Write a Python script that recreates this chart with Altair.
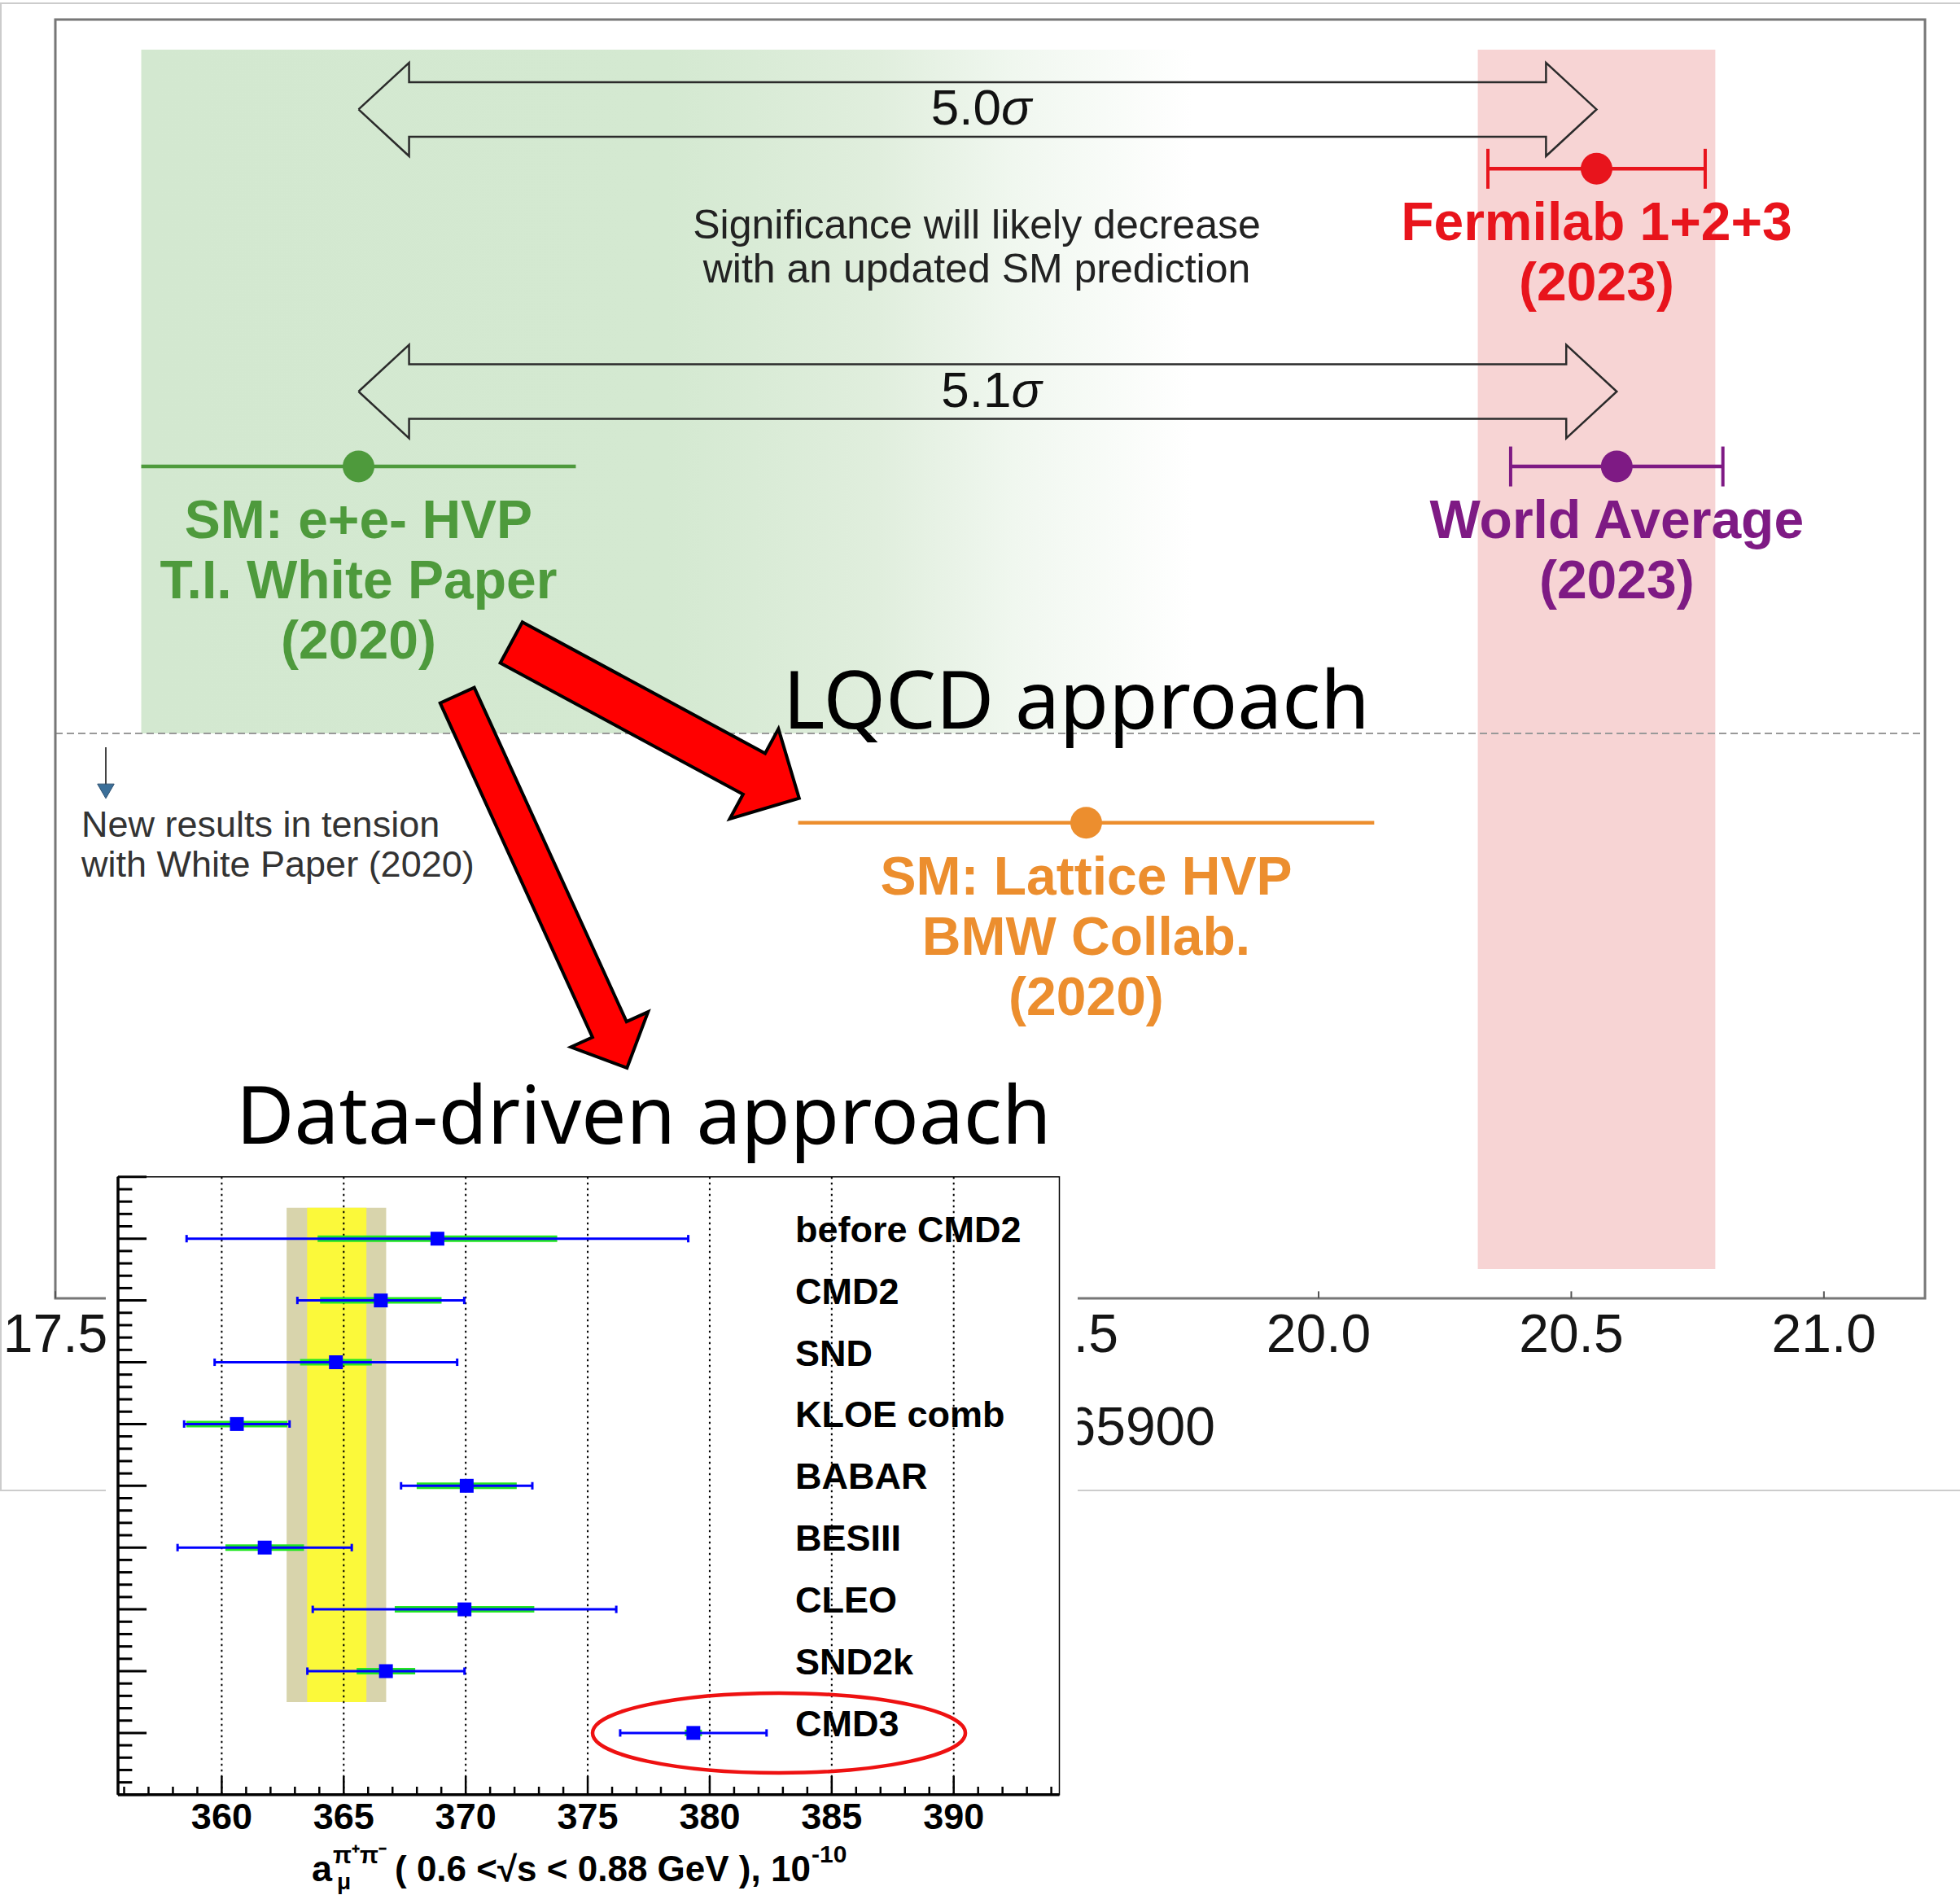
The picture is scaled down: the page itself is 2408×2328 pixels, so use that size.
import altair as alt
import pandas as pd

CANVAS_W, CANVAS_H = 2408, 2328
SANS = "Liberation Sans"
SLIDE = "Noto Sans"

# ---------------- main panel: a_mu x 10^9 - 1165900 ----------------
result_names = ["Fermilab 1+2+3", "World Average", "SM: e+e- HVP", "SM: Lattice HVP"]
result_values = [20.55, 20.59, 18.10, 19.54]
result_errors = [0.215, 0.21, 0.43, 0.57]
result_rows = [88.33, 65.05, 65.05, 37.19]
result_colors = ["#e8141c", "#7e1a84", "#4e9a3c", "#ec8e2e"]
result_capped = [True, True, False, False]
result_captions = [
    ["Fermilab 1+2+3", "(2023)"],
    ["World Average", "(2023)"],
    ["SM: e+e- HVP", "T.I. White Paper", "(2020)"],
    ["SM: Lattice HVP", "BMW Collab.", "(2020)"],
]

fermilab_band = [20.315, 20.785]
fermilab_band_rows = [2.29, 97.64]
wp_band = [17.67, 19.75]
wp_band_rows = [44.18, 97.64]
tension_divider_row = 44.18

tension_labels = ["5.0", "5.1"]
tension_from = [18.10, 18.10]
tension_to = [20.55, 20.59]
tension_rows = [92.97, 70.91]

main_ticks = [17.5, 18.0, 18.5, 19.0, 19.5, 20.0, 20.5, 21.0]
# labels for 18.0 - 19.0 sit underneath the inset and are not shown
main_label_ticks = [17.5, 19.5, 20.0, 20.5, 21.0]
main_tick_labels = ["17.5", "19.5", "20.0", "20.5", "21.0"]
main_frame = {"x0": 17.5, "x1": 21.2, "y0": 0.0, "y1": 100.0}

# ---------------- inset: a_mu(pi+pi-), 0.6 < sqrt(s) < 0.88 GeV ----------------
exp_names = ["before CMD2", "CMD2", "SND", "KLOE comb", "BABAR", "BESIII", "CLEO", "SND2k", "CMD3"]
exp_values = [368.84, 366.52, 364.68, 360.62, 370.04, 361.76, 369.95, 366.73, 379.33]
exp_total = [10.28, 3.42, 4.97, 2.16, 2.69, 3.57, 6.22, 3.22, 3.00]
exp_stat = [4.91, 2.49, 1.47, 2.07, 2.05, 1.61, 2.86, 1.20, 0.35]
avg_outer = [362.66, 366.74]
avg_inner = [363.50, 365.93]
avg_rows = [-0.5, 7.5]
inset_frame = {"x0": 355.75, "x1": 394.33, "y0": -1.0, "y1": 9.0}
inset_major = [360, 365, 370, 375, 380, 385, 390]
inset_minor = list(range(356, 395))

MAIN_X = alt.Scale(domain=[17.5, 21.2], range=[68, 2365], zero=False, nice=False)
MAIN_Y = alt.Scale(domain=[0, 100], range=[1595, 24], zero=False, nice=False)
IN_X = alt.Scale(domain=[355.75, 394.33], range=[145, 1301.5], zero=False, nice=False)
IN_Y = alt.Scale(domain=[-1, 9], range=[1445.8, 2204.8], zero=False, nice=False)


def mx(f):
    return alt.X(f, type="quantitative", scale=MAIN_X, axis=None)


def my(f):
    return alt.Y(f, type="quantitative", scale=MAIN_Y, axis=None)


def ix(f):
    return alt.X(f, type="quantitative", scale=IN_X, axis=None)


def iy(f):
    return alt.Y(f, type="quantitative", scale=IN_Y, axis=None)


one = pd.DataFrame({"k": [0]})


def note(text, x, y, size, color="#111", weight="normal", align="left",
         baseline="middle", font=SANS, style="normal"):
    return alt.Chart(pd.DataFrame({"text": [text]})).mark_text(
        font=font, fontSize=size, fontWeight=weight, fontStyle=style,
        align=align, baseline=baseline, color=color,
    ).encode(x=alt.value(x), y=alt.value(y), text="text:N")


# ---------- main panel layers ----------
page_border = alt.Chart(one).mark_rect(
    fillOpacity=0, stroke="#cccccc", strokeWidth=2
).encode(x=alt.value(1), x2=alt.value(2440), y=alt.value(4), y2=alt.value(1831))

wp_df = pd.DataFrame({"x0": [wp_band[0]], "x1": [wp_band[1]],
                      "y0": [wp_band_rows[0]], "y1": [wp_band_rows[1]]})
green_fade = alt.Gradient(
    gradient="linear", x1=0, x2=1, y1=0, y2=0,
    stops=[
        alt.GradientStop(color="#d3e8d0", offset=0),
        alt.GradientStop(color="#d4e9d1", offset=0.5),
        alt.GradientStop(color="#e0eedd", offset=0.7),
        alt.GradientStop(color="#f0f7ef", offset=0.83),
        alt.GradientStop(color="#ffffff", offset=1),
    ],
)
wp_region = alt.Chart(wp_df).mark_rect(color=green_fade).encode(
    x=mx("x0"), x2="x1", y=my("y0"), y2="y1")

fnal_df = pd.DataFrame({"x0": [fermilab_band[0]], "x1": [fermilab_band[1]],
                        "y0": [fermilab_band_rows[0]], "y1": [fermilab_band_rows[1]]})
fnal_region = alt.Chart(fnal_df).mark_rect(color="#f7d4d4").encode(
    x=mx("x0"), x2="x1", y=my("y0"), y2="y1")

frame_df = pd.DataFrame([main_frame])
main_box = alt.Chart(frame_df).mark_rect(
    fillOpacity=0, stroke="#777777", strokeWidth=3
).encode(x=mx("x0"), x2="x1", y=my("y0"), y2="y1")

divider = alt.Chart(frame_df.assign(row=tension_divider_row)).mark_rule(
    color="#999999", strokeWidth=2, strokeDash=[9, 5]
).encode(x=mx("x0"), x2="x1", y=my("row"))

# double-headed outline arrows between the prediction and the measurements
HEAD_LEN, HEAD_HALF, SHAFT_HALF = 0.1, 3.65, 2.13
arrow_pts = []
for lab, a, b, yc in zip(tension_labels, tension_from, tension_to, tension_rows):
    outline = [
        (a, 0), (a + HEAD_LEN, HEAD_HALF), (a + HEAD_LEN, SHAFT_HALF),
        (b - HEAD_LEN, SHAFT_HALF), (b - HEAD_LEN, HEAD_HALF), (b, 0),
        (b - HEAD_LEN, -HEAD_HALF), (b - HEAD_LEN, -SHAFT_HALF),
        (a + HEAD_LEN, -SHAFT_HALF), (a + HEAD_LEN, -HEAD_HALF), (a, 0),
    ]
    for i, (xv, dy) in enumerate(outline):
        arrow_pts.append({"arrow": lab, "i": i, "x": xv, "y": yc + dy})
tension_arrows = alt.Chart(pd.DataFrame(arrow_pts)).mark_line(
    color="#2b2b2b", strokeWidth=2.5, strokeJoin="miter"
).encode(x=mx("x"), y=my("y"), detail="arrow:N", order=alt.Order("i:Q"))

tension_df = pd.DataFrame({
    "num": tension_labels,
    "mid": [(a + b) / 2 for a, b in zip(tension_from, tension_to)],
    "row": tension_rows,
})
tension_num = alt.Chart(tension_df).mark_text(
    font=SANS, fontSize=62, align="right", baseline="middle", dx=29, color="#111"
).encode(x=mx("mid"), y=my("row"), text="num:N")
tension_sigma = alt.Chart(tension_df).mark_text(
    font=SANS, fontSize=62, fontStyle="italic", align="left", baseline="middle",
    dx=29, color="#111"
).encode(x=mx("mid"), y=my("row"), text=alt.value("σ"))

significance = alt.layer(
    note("Significance will likely decrease", 1200, 278, 50, color="#222", align="center"),
    note("with an updated SM prediction", 1200, 332, 50, color="#222", align="center"),
)

res = pd.DataFrame({
    "name": result_names, "value": result_values, "err": result_errors,
    "row": result_rows, "color": result_colors, "capped": result_capped,
})
res["lo"] = res["value"] - res["err"]
res["hi"] = res["value"] + res["err"]

res_bars = alt.Chart(res).mark_rule(strokeWidth=4.5).encode(
    x=mx("lo"), x2="hi", y=my("row"), color=alt.Color("color:N", scale=None))

caps = res[res["capped"]].melt(id_vars=["row", "color"], value_vars=["lo", "hi"], value_name="x")
caps["y0"] = caps["row"] - 1.56
caps["y1"] = caps["row"] + 1.56
res_caps = alt.Chart(caps).mark_rule(strokeWidth=4).encode(
    x=mx("x"), y=my("y0"), y2="y1", color=alt.Color("color:N", scale=None))

res_points = alt.Chart(res).mark_circle(size=1520, opacity=1).encode(
    x=mx("value"), y=my("row"), color=alt.Color("color:N", scale=None))

cap_rows = []
for v, r, c, lines in zip(result_values, result_rows, result_colors, result_captions):
    for i, t in enumerate(lines):
        cap_rows.append({"text": t, "x": v, "y": r - (4.33 + 4.71 * i), "color": c})
res_captions = alt.Chart(pd.DataFrame(cap_rows)).mark_text(
    font=SANS, fontSize=66, fontWeight="bold", align="center", baseline="middle"
).encode(x=mx("x"), y=my("y"), text="text:N", color=alt.Color("color:N", scale=None))

tension_note = alt.layer(
    note("New results in tension", 100, 1014, 45, color="#333"),
    note("with White Paper (2020)", 100, 1063, 45, color="#333"),
    alt.Chart(one).mark_rule(color="#444", strokeWidth=2).encode(
        x=alt.value(130), y=alt.value(918), y2=alt.value(966)),
    alt.Chart(one).mark_point(
        shape="triangle-down", size=420, filled=True, fill="#3b6f99",
        stroke="#2c4f6e", strokeWidth=1, opacity=1
    ).encode(x=alt.value(130), y=alt.value(972)),
)

ticks_df = pd.DataFrame({"t": main_ticks})
main_ticks_layer = alt.Chart(ticks_df.assign(y0=0.0, y1=0.55)).mark_rule(
    color="#555", strokeWidth=2
).encode(x=mx("t"), y=my("y0"), y2="y1")
labels_df = pd.DataFrame({"t": main_label_ticks, "label": main_tick_labels})
main_tick_text = alt.Chart(labels_df.assign(y=-2.93)).mark_text(
    font=SANS, fontSize=66, align="center", baseline="middle", color="#151515"
).encode(x=mx("t"), y=my("y"), text="label:N")
main_title = note("1165900", 1493, 1755, 66, color="#151515", align="right")

# slide call-outs: red block arrows and headings
arrow_lqcd = "M -1 -0.142 L 0.687 -0.142 L 0.687 -0.313 L 1 0 L 0.687 0.313 L 0.687 0.142 L -1 0.142 Z"
arrow_data = "M -1 -0.0915 L 0.794 -0.0915 L 0.794 -0.207 L 1 0 L 0.794 0.207 L 0.794 0.0915 L -1 0.0915 Z"
callouts = alt.layer(
    alt.Chart(one).mark_point(
        shape=arrow_lqcd, size=161604, angle=28.4, filled=True, fill="#ff0000",
        stroke="#000000", strokeWidth=4, opacity=1, strokeJoin="miter"
    ).encode(x=alt.value(805), y=alt.value(885)),
    alt.Chart(one).mark_point(
        shape=arrow_data, size=253009, angle=65.5, filled=True, fill="#ff0000",
        stroke="#000000", strokeWidth=4, opacity=1, strokeJoin="miter"
    ).encode(x=alt.value(666), y=alt.value(1083)),
    note("LQCD approach", 962, 895, 98, color="#000", baseline="alphabetic", font=SLIDE),
    note("Data-driven approach", 290, 1405, 98, color="#000", baseline="alphabetic", font=SLIDE),
)

main_panel = alt.layer(
    page_border, wp_region, fnal_region, divider, main_box, main_ticks_layer,
    tension_arrows, tension_num, tension_sigma, significance,
    res_bars, res_caps, res_points, res_captions, tension_note,
    main_tick_text, main_title, callouts,
)

# ---------- inset layers ----------
inset_bg = alt.Chart(one).mark_rect(color="#ffffff").encode(
    x=alt.value(130), x2=alt.value(1324), y=alt.value(1432), y2=alt.value(2340))

avg_df = pd.DataFrame({
    "x0": [avg_outer[0], avg_inner[0]], "x1": [avg_outer[1], avg_inner[1]],
    "y0": [avg_rows[0]] * 2, "y1": [avg_rows[1]] * 2,
    "color": ["#d8d4ac", "#fbf93a"],
})
avg_band = alt.Chart(avg_df).mark_rect().encode(
    x=ix("x0"), x2="x1", y=iy("y0"), y2="y1", color=alt.Color("color:N", scale=None))

grid_df = pd.DataFrame({"t": inset_major, "y0": inset_frame["y0"], "y1": inset_frame["y1"]})
inset_grid = alt.Chart(grid_df).mark_rule(
    color="#000", strokeWidth=2, strokeDash=[2.5, 4.5]
).encode(x=ix("t"), y=iy("y0"), y2="y1")

exp = pd.DataFrame({"name": exp_names, "value": exp_values,
                    "total": exp_total, "stat": exp_stat})
exp["row"] = range(len(exp))
exp["lo"] = exp["value"] - exp["total"]
exp["hi"] = exp["value"] + exp["total"]
exp["slo"] = exp["value"] - exp["stat"]
exp["shi"] = exp["value"] + exp["stat"]

stat_bars = alt.Chart(exp).mark_rule(color="#22e622", strokeWidth=8).encode(
    x=ix("slo"), x2="shi", y=iy("row"))
total_bars = alt.Chart(exp).mark_rule(color="#0000ff", strokeWidth=3).encode(
    x=ix("lo"), x2="hi", y=iy("row"))
exp_caps = exp.melt(id_vars=["row"], value_vars=["lo", "hi"], value_name="x")
exp_caps["y0"] = exp_caps["row"] - 0.06
exp_caps["y1"] = exp_caps["row"] + 0.06
total_caps = alt.Chart(exp_caps).mark_rule(color="#0000ff", strokeWidth=3).encode(
    x=ix("x"), y=iy("y0"), y2="y1")
exp_points = alt.Chart(exp).mark_square(size=289, color="#0000ff", opacity=1).encode(
    x=ix("value"), y=iy("row"))

iframe_df = pd.DataFrame([inset_frame])
inset_box = alt.Chart(iframe_df).mark_rect(
    fillOpacity=0, stroke="#000", strokeWidth=1.5
).encode(x=ix("x0"), x2="x1", y=iy("y0"), y2="y1")
inset_left = alt.Chart(iframe_df).mark_rule(color="#000", strokeWidth=3.5).encode(
    x=ix("x0"), y=iy("y0"), y2="y1")
inset_bottom = alt.Chart(iframe_df).mark_rule(color="#000", strokeWidth=3.5).encode(
    x=ix("x0"), x2="x1", y=iy("y1"))

ytick_vals = [round(-1 + 0.2 * k, 1) for k in range(51)]
ytick_df = pd.DataFrame({"t": ytick_vals})
ytick_df["major"] = (ytick_df["t"] - ytick_df["t"].round()).abs() < 1e-6
ytick_df["x0"] = inset_frame["x0"]
ytick_df["x1"] = inset_frame["x0"] + ytick_df["major"].map({True: 1.17, False: 0.58})
inset_yticks = alt.Chart(ytick_df).mark_rule(color="#000", strokeWidth=3).encode(
    x=ix("x0"), x2="x1", y=iy("t"))

xtick_df = pd.DataFrame({"t": inset_minor})
xtick_df["y0"] = inset_frame["y1"]
xtick_df["y1"] = inset_frame["y1"] - xtick_df["t"].map(lambda v: 0.30 if v % 5 == 0 else 0.13)
inset_xticks = alt.Chart(xtick_df).mark_rule(color="#000", strokeWidth=2.5).encode(
    x=ix("t"), y=iy("y0"), y2="y1")

xlab_df = pd.DataFrame({"t": inset_major, "label": [str(v) for v in inset_major]})
inset_xlabels = alt.Chart(xlab_df).mark_text(
    font=SANS, fontSize=45, fontWeight="bold", align="center", baseline="middle", color="#000"
).encode(x=ix("t"), y=alt.value(2233), text="label:N")

exp_labels = alt.Chart(exp).mark_text(
    font=SANS, fontSize=45, fontWeight="bold", align="left", baseline="middle",
    dy=-10, color="#000"
).encode(x=alt.value(977), y=iy("row"), text="name:N")

ellipse = ("M -1 0 C -1 -0.118 -0.552 -0.214 0 -0.214 C 0.552 -0.214 1 -0.118 1 0 "
           "C 1 0.118 0.552 0.214 0 0.214 C -0.552 0.214 -1 0.118 -1 0 Z")
cmd3_ring = alt.Chart(one).mark_point(
    shape=ellipse, size=209764, filled=False, stroke="#ee1111", strokeWidth=4.5, opacity=1
).encode(x=alt.value(957), y=alt.value(2129))

inset_title = alt.layer(
    note("a", 383, 2311, 45, color="#000", weight="bold", baseline="alphabetic"),
    note("π⁺π⁻", 409, 2289, 30, color="#000", weight="bold", baseline="alphabetic"),
    note("μ", 414, 2321, 28, color="#000", weight="bold", baseline="alphabetic"),
    note("( 0.6 <√s < 0.88 GeV ), 10", 485, 2311, 44, color="#000", weight="bold",
         baseline="alphabetic"),
    note("-10", 997, 2288, 30, color="#000", weight="bold", baseline="alphabetic"),
)

inset_panel = alt.layer(
    inset_bg, avg_band, inset_grid, stat_bars, total_bars, total_caps, exp_points,
    inset_box, inset_left, inset_bottom, inset_yticks, inset_xticks,
    inset_xlabels, exp_labels, cmd3_ring, inset_title,
)

chart = alt.layer(main_panel, inset_panel).resolve_scale(
    x="independent", y="independent"
).properties(
    width=CANVAS_W, height=CANVAS_H, padding=0,
    autosize=alt.AutoSizeParams(type="none"), background="#ffffff",
).configure_view(strokeWidth=0)

chart.save("out.html", embed_options={"renderer": "svg", "actions": False})
